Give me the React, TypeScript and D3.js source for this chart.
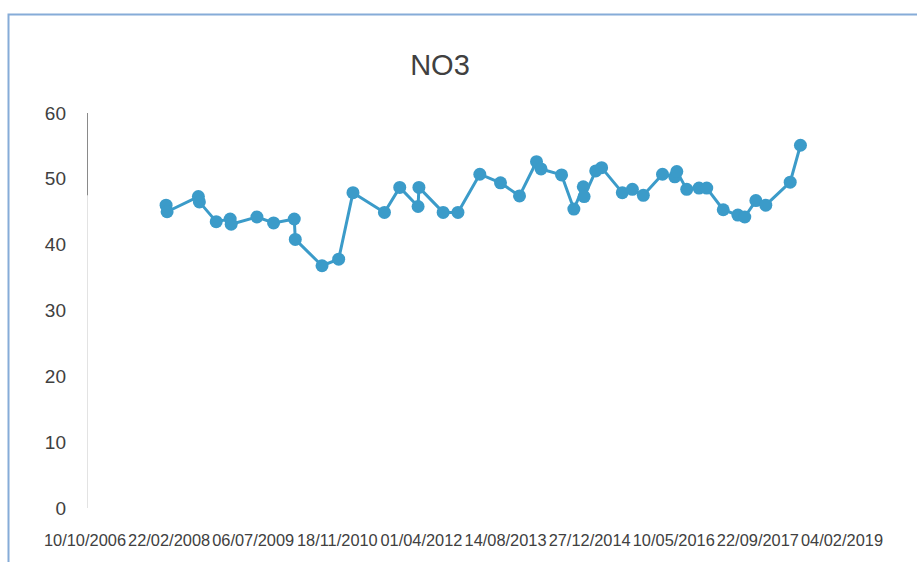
import React, { useRef, useEffect } from 'react';
import * as d3 from 'd3';

const sampleDates = [
  '2008-02-04', '2008-02-10', '2008-08-14', '2008-08-20', '2008-11-28',
  '2009-02-19', '2009-02-25', '2009-07-28', '2009-11-04', '2010-03-07',
  '2010-03-13', '2010-08-19', '2010-11-26', '2011-02-19', '2011-08-25',
  '2011-11-24', '2012-03-12', '2012-03-17', '2012-08-08', '2012-11-04',
  '2013-03-14', '2013-07-15', '2013-11-05', '2014-02-14', '2014-03-13',
  '2014-07-13', '2014-09-24', '2014-11-19', '2014-11-24', '2015-02-01',
  '2015-03-08', '2015-07-09', '2015-09-07', '2015-11-11', '2016-03-04',
  '2016-05-16', '2016-05-28', '2016-07-26', '2016-10-07', '2016-11-22',
  '2017-02-28', '2017-05-26', '2017-07-06', '2017-09-10', '2017-11-08',
  '2018-04-02', '2018-06-02',
];

const no3Values = [
  46.0, 45.0, 47.3, 46.5, 43.5,
  43.9, 43.1, 44.2, 43.3, 43.9,
  40.8, 36.8, 37.8, 47.9, 44.9,
  48.7, 45.8, 48.7, 44.9, 44.9,
  50.7, 49.4, 47.4, 52.6, 51.5,
  50.6, 45.4, 48.8, 47.3, 51.2,
  51.7, 47.9, 48.4, 47.5, 50.7,
  50.3, 51.1, 48.4, 48.6, 48.6,
  45.3, 44.5, 44.2, 46.7, 46.0,
  49.5, 55.1,
];

// excel date axis, major unit 500 days
const xTickDates = [
  '2006-10-10', '2008-02-22', '2009-07-06', '2010-11-18', '2012-04-01',
  '2013-08-14', '2014-12-27', '2016-05-10', '2017-09-22', '2019-02-04',
];

const yTicks = [0, 10, 20, 30, 40, 50, 60];

const App = () => {
  const ref = useRef<SVGSVGElement>(null);
  const width = 917;
  const height = 562;

  useEffect(() => {
    const svg = d3.select(ref.current);
    svg.selectAll('*').remove();

    const parse = d3.utcParse('%Y-%m-%d');
    const fmt = d3.utcFormat('%d/%m/%Y');
    const data = sampleDates.map((d, i) => ({ date: parse(d) as Date, value: no3Values[i] }));
    const ticks = xTickDates.map(d => parse(d) as Date);

    const x = d3.scaleUtc()
      .domain([ticks[0], ticks[ticks.length - 1]])
      .range([85, 842]);

    const y = d3.scaleLinear()
      .domain([0, 60])
      .range([508, 113]);

    svg.append('rect')
      .attr('width', width)
      .attr('height', height)
      .attr('fill', '#fff');

    // chart frame (only top and left visible)
    svg.append('path')
      .attr('d', `M8.5,${height} L8.5,14.5 L${width},14.5`)
      .attr('fill', 'none')
      .attr('stroke', '#86acd8')
      .attr('stroke-width', 2);

    svg.append('text')
      .attr('x', 440)
      .attr('y', 75)
      .attr('text-anchor', 'middle')
      .attr('font-family', 'Liberation Sans, Arial, sans-serif')
      .attr('font-size', '29px')
      .attr('fill', '#404040')
      .text('NO3');

    // y axis line
    svg.append('line')
      .attr('x1', 87.5).attr('x2', 87.5)
      .attr('y1', y(60)).attr('y2', y(0))
      .attr('stroke', '#e3e3e3');
    svg.append('line')
      .attr('x1', 87.5).attr('x2', 87.5)
      .attr('y1', y(60)).attr('y2', y(47.5))
      .attr('stroke', '#8a8a8a');

    svg.append('g')
      .selectAll('text')
      .data(yTicks)
      .join('text')
      .attr('x', 66)
      .attr('y', d => y(d))
      .attr('dy', '0.35em')
      .attr('text-anchor', 'end')
      .attr('font-family', 'Liberation Sans, Arial, sans-serif')
      .attr('font-size', '19px')
      .attr('fill', '#404040')
      .text(d => d);

    // date labels, a bit smaller than the original so they don't collide
    svg.append('g')
      .selectAll('text')
      .data(ticks)
      .join('text')
      .attr('x', d => x(d))
      .attr('y', 546)
      .attr('text-anchor', 'middle')
      .attr('font-family', 'Liberation Sans, Arial, sans-serif')
      .attr('font-size', '16.4px')
      .attr('fill', '#404040')
      .text(d => fmt(d));

    const line = d3.line<{ date: Date; value: number }>()
      .x(d => x(d.date))
      .y(d => y(d.value));

    svg.append('path')
      .datum(data)
      .attr('d', line)
      .attr('fill', 'none')
      .attr('stroke', '#3b9bc9')
      .attr('stroke-width', 3)
      .attr('stroke-linejoin', 'round');

    svg.append('g')
      .selectAll('circle')
      .data(data)
      .join('circle')
      .attr('cx', d => x(d.date))
      .attr('cy', d => y(d.value))
      .attr('r', 6.5)
      .attr('fill', '#3b9bc9');

    return () => {
      d3.select(ref.current).selectAll('*').remove();
    };
  }, []);

  return (
    <svg
      ref={ref}
      width={width}
      height={height}
      style={{ position: 'absolute', left: 0, top: 0 }}
    ></svg>
  );
};

export default App;
